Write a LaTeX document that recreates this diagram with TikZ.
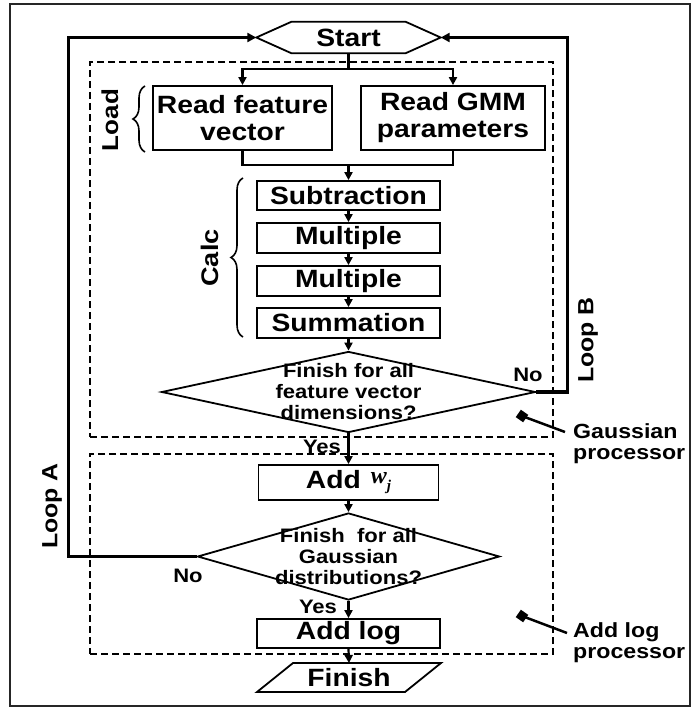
\documentclass[tikz,border=0pt]{standalone}
\usepackage{fontspec}
\setsansfont{Liberation Sans}[FakeStretch=1.13]
\newfontfamily\wfont{Liberation Serif}
\usetikzlibrary{arrows.meta,shapes.geometric,decorations.pathreplacing,calc}

\begin{document}
\begin{tikzpicture}[x=1pt,y=-1pt,
  big/.style={font=\sffamily\bfseries\fontsize{25}{27}\selectfont},
  mid/.style={font=\sffamily\bfseries\fontsize{20.5}{21.5}\selectfont},
  small/.style={font=\sffamily\bfseries\fontsize{19.5}{21}\selectfont},
  side/.style={font=\sffamily\bfseries\fontsize{23}{23}\selectfont, rotate=90},
  stepbox/.style={draw, line width=1.8pt, inner sep=0pt, big, align=center},
  decision/.style={draw, diamond, line width=1.8pt, inner sep=0pt},
  dtext/.style={small, align=center, inner sep=0pt},
  conn/.style={line width=2.2pt},
  arr/.style={conn, -{Triangle[length=8pt,width=8pt]}},
  loopline/.style={line width=3.5pt, -{Triangle[length=9pt,width=9pt]}},
  dashbox/.style={draw, line width=1.8pt, dash pattern=on 7pt off 4pt, inner sep=0pt},
  brc/.style={line width=1.6pt, decorate, decoration={brace, amplitude=12pt}},
  marker/.style={fill, minimum size=9pt, inner sep=0pt, rotate=-35},
  pointer/.style={line width=2.5pt},
]
\useasboundingbox (0,0) rectangle (698,709);

% outer frame
\draw[line width=1.5pt, black!85] (10,4) rectangle (690,706);

% processor regions
\node[dashbox, minimum width=463, minimum height=375] (gproc) at (321.5,249.5) {};
\node[dashbox, minimum width=463, minimum height=200] (aproc) at (321.5,554) {};

% start terminal (hexagon)
\node[big, minimum width=184, minimum height=31, inner sep=0pt] (start) at (348.5,37.5) {Start};
\draw[line width=1.8pt] (start.west) -- ($(start.north west)+(35,0)$) -- ($(start.north east)+(-35,0)$)
  -- (start.east) -- ($(start.south east)+(-35,0)$) -- ($(start.south west)+(35,0)$) -- cycle;

% load stage
\node[stepbox, minimum width=179, minimum height=64] (rfv) at (242.5,118) {Read feature\\vector};
\node[stepbox, minimum width=184, minimum height=64] (gmm) at (453,118) {Read GMM\\parameters};

% calc stage
\node[stepbox, minimum width=183, minimum height=29] (sub) at (348.5,195.5) {Subtraction};
\node[stepbox, minimum width=183, minimum height=30] (mul1) at (348.5,238) {Multiple};
\node[stepbox, minimum width=183, minimum height=30] (mul2) at (348.5,281) {Multiple};
\node[stepbox, minimum width=183, minimum height=30] (sum) at (348.5,323) {Summation};

% dimension loop test
\node[decision, minimum width=374, minimum height=81] (dia1) at (348.5,392) {};
\node[dtext] (dia1t) at (dia1.center) {Finish for all\\feature vector\\dimensions?};

% weight and Gaussian loop test
\node[stepbox, minimum width=180, minimum height=35] (addw) at (348.5,482.5)
  {Add\hspace{10pt}\raisebox{5pt}{\wfont\itshape\fontsize{24}{24}\selectfont w\raisebox{-7pt}{\fontsize{15}{15}\selectfont j}}};
\node[decision, minimum width=302, minimum height=87] (dia2) at (348.5,556.5) {};
\node[dtext] (dia2t) at (dia2.center) {Finish\ \ for all\\Gaussian\\distributions?};

\node[stepbox, minimum width=183, minimum height=29] (addlog) at (348.5,633.5) {Add log};

% finish terminal (parallelogram)
\node[big, minimum width=148, minimum height=29, inner sep=0pt] (finish) at (349,677.5) {Finish};
\draw[line width=1.8pt] ($(finish.center)+(-92,14.5)$) -- ($(finish.center)+(56,14.5)$)
  -- ($(finish.center)+(92,-14.5)$) -- ($(finish.center)+(-56,-14.5)$) -- cycle;

% braces and stage names
\draw[brc] (145,152) -- (145,86);
\node[side] (load) at (110,120) {Load};
\draw[brc] (243,337) -- (243,178);
\node[side, font=\sffamily\bfseries\fontsize{24}{24}\selectfont] (calc) at (210,258) {Calc};

% main flow
\coordinate (split) at ($(start.south)+(0,16)$);
\draw[conn] (start.south) -- (split);
\draw[arr] (split) -| (rfv.north);
\draw[arr] (split) -| (gmm.north);
\coordinate (join) at (348.5,165);
\draw[conn] (rfv.south) |- (join);
\draw[conn] (gmm.south) |- (join);
\draw[arr] (join) -- (sub.north);
\draw[arr] (sub) -- (mul1);
\draw[arr] (mul1) -- (mul2);
\draw[arr] (mul2) -- (sum);
\draw[arr] (sum) -- (dia1.north);
\draw[arr] (dia1.south) -- (addw.north);
\draw[arr] (addw) -- (dia2.north);
\draw[arr] (dia2.south) -- (addlog.north);
\draw[arr] (addlog.south) -- ($(finish.center)+(0,-14.5)$);

% loops back to start
\draw[loopline] (dia1.east) -- ++(31,0) |- (start.east);
\draw[loopline] (dia2.west) -- ++(-128,0) |- (start.west);

% branch labels
\node[small] (yes1) at (322,447) {Yes};
\node[small] (no1) at (528,375) {No};
\node[small] (no2) at (188,576) {No};
\node[small] (yes2) at (318,607) {Yes};
\node[side, font=\sffamily\bfseries\fontsize{22}{22}\selectfont] (loopa) at (52,506) {Loop A};
\node[side, font=\sffamily\bfseries\fontsize{22}{22}\selectfont] (loopb) at (588,340) {Loop B};

% processor callouts
\node[mid, align=left, anchor=west, inner sep=0pt] (glabel) at (573,443.5) {Gaussian\\processor};
\node[marker] (gmark) at (522,416) {};
\draw[pointer] (gmark.center) -- (565,432);
\node[mid, align=left, anchor=west, inner sep=0pt] (alabel) at (573,642.5) {Add log\\processor};
\node[marker] (amark) at (522,616) {};
\draw[pointer] (amark.center) -- (567,633);
\end{tikzpicture}
\end{document}
